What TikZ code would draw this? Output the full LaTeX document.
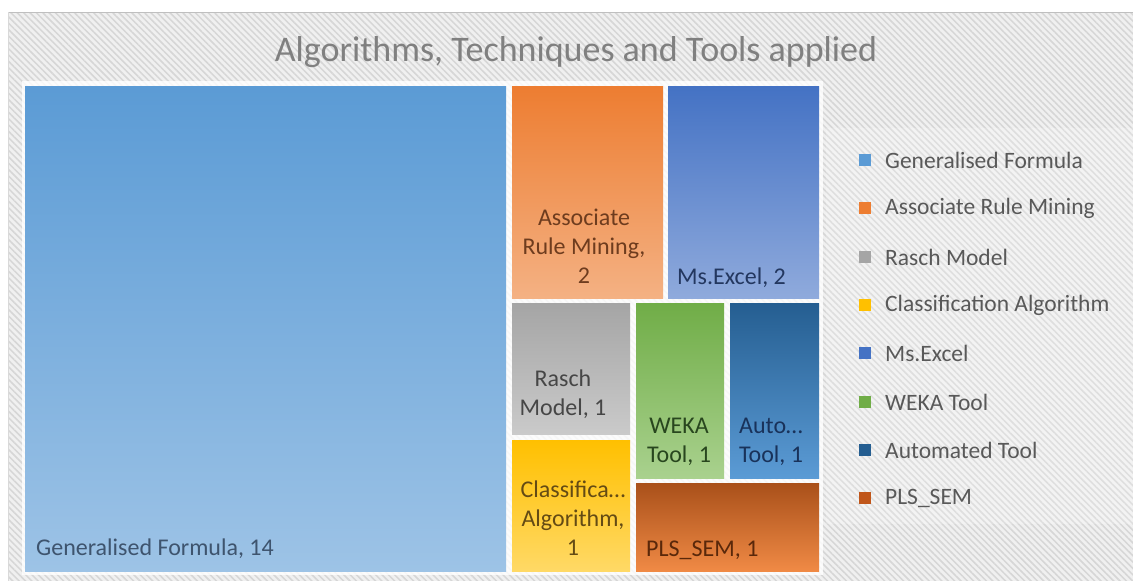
\documentclass[tikz,border=0pt]{standalone}
\usepackage{fontspec}
\setmainfont{Carlito}
\usetikzlibrary{patterns.meta}
\definecolor{cGF}{HTML}{5B9BD5}\definecolor{cGFb}{HTML}{9DC3E6}
\definecolor{cAR}{HTML}{ED7D31}\definecolor{cARb}{HTML}{F4B183}
\definecolor{cMS}{HTML}{4472C4}\definecolor{cMSb}{HTML}{8FAADC}
\definecolor{cRM}{HTML}{A5A5A5}\definecolor{cRMb}{HTML}{CACACA}
\definecolor{cCA}{HTML}{FFC000}\definecolor{cCAb}{HTML}{FFD966}
\definecolor{cWK}{HTML}{70AD47}\definecolor{cWKb}{HTML}{A9D18E}
\definecolor{cAT}{HTML}{255E91}\definecolor{cATb}{HTML}{5B9BD5}
\definecolor{cPL}{HTML}{A9501A}\definecolor{cPLb}{HTML}{F08A45}
\definecolor{cPLl}{HTML}{C0561A}
\definecolor{tGF}{HTML}{3E546E}\definecolor{tAR}{HTML}{6E3C1E}
\definecolor{tMS}{HTML}{23375F}\definecolor{tRM}{HTML}{464646}
\definecolor{tCA}{HTML}{644B14}\definecolor{tWK}{HTML}{28461E}
\definecolor{tAT}{HTML}{19325A}\definecolor{tPL}{HTML}{5A280A}
\definecolor{legtext}{HTML}{595959}
\definecolor{titletext}{HTML}{808080}
\tikzset{
  tile/.style={draw=none},
  lbl/.style={inner sep=0pt, font=\fontsize{24}{29}\selectfont, align=center},
  lbll/.style={inner sep=0pt, font=\fontsize{24}{29}\selectfont, anchor=base west},
  legsq/.style={minimum width=12pt, minimum height=12pt, inner sep=0pt},
  legtxt/.style={inner sep=0pt, anchor=west, text=legtext, font=\fontsize{23.5}{28}\selectfont},
}
\begin{document}
\begin{tikzpicture}[x=1pt,y=-1pt]
\useasboundingbox (0,0) rectangle (1133,581);
% background
\fill[white] (0,0) rectangle (1133,581);
\fill[white!94!black] (8,12) rectangle (1133,581);
\fill[pattern={Lines[angle=-45,distance=4.5pt,line width=1.5pt]}, pattern color=white!84!black] (8,12) rectangle (1133,581);
\draw[white!75!black, line width=1pt] (8,12.5) -- (1133,12.5);
\draw[white!85!black, line width=0.8pt] (8.4,12) -- (8.4,581);
% legend area and plot area
\fill[white, opacity=0.2] (826,128) rectangle (1133,524);
\fill[white, opacity=0.8] (22,81) rectangle (823,575);
% title
\node[inner sep=0pt, anchor=base, text=titletext, font=\fontsize{36}{40}\selectfont] (title) at (576,61) {Algorithms, Techniques and Tools applied};
% tiles
\shade[tile, top color=cGF, bottom color=cGFb] (25,86) rectangle (506,571);
\shade[tile, top color=cAR, bottom color=cARb] (512,86) rectangle (663,298);
\shade[tile, top color=cMS, bottom color=cMSb] (668,86) rectangle (819,298);
\shade[tile, top color=cRM, bottom color=cRMb] (512,303) rectangle (630,434);
\shade[tile, top color=cCA, bottom color=cCAb] (512,440) rectangle (630,571);
\shade[tile, top color=cWK, bottom color=cWKb] (636,303) rectangle (724,478);
\shade[tile, top color=cAT, bottom color=cATb] (730,303) rectangle (819,478);
\shade[tile, top color=cPL, bottom color=cPLb] (636,483) rectangle (819,571);
% labels
\node[lbll, text=tGF] (lGF) at (36,555) {Generalised Formula, 14};
\node[lbl, text=tAR, anchor=south] (lAR) at (584,284) {Associate\\Rule Mining,\\2};
\node[lbll, text=tMS] (lMS) at (677,284) {Ms.Excel, 2};
\node[lbl, text=tRM, anchor=south] (lRM) at (563,419) {Rasch\\Model, 1};
\node[lbl, text=tWK, anchor=south] (lWK) at (679,466) {WEKA\\Tool, 1};
\node[lbl, text=tAT, anchor=south] (lAT) at (771,466) {Auto…\\Tool, 1};
\node[lbl, text=tCA, anchor=south] (lCA) at (573,556) {Classifica…\\Algorithm,\\1};
\node[lbll, text=tPL] (lPL) at (646,556) {PLS\_SEM, 1};
% legend
\foreach \c/\t/\y [count=\i] in {cGF/Generalised Formula/160, cAR/Associate Rule Mining/208, cRM/Rasch Model/257, cCA/Classification Algorithm/305, cMS/Ms.Excel/353, cWK/WEKA Tool/402, cAT/Automated Tool/450, cPLl/PLS\_SEM/498}{
  \node[legsq, fill=\c] (sq\i) at (865,\y) {};
  \node[legtxt] (lg\i) at (885,\y) {\t};
}
\end{tikzpicture}
\end{document}
